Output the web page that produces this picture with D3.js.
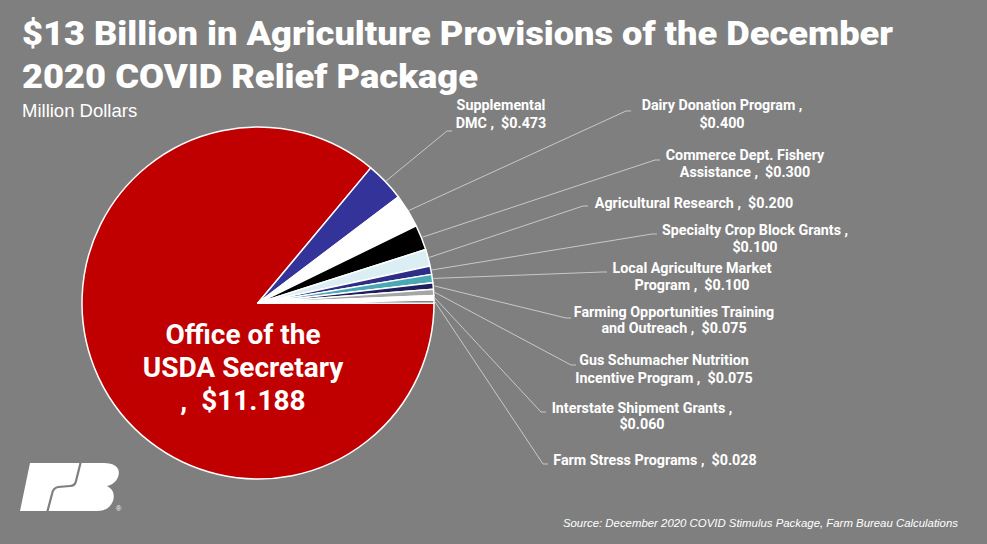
<!DOCTYPE html>
<html><head><meta charset="utf-8">
<script src="https://cdn.jsdelivr.net/npm/d3@7"></script>
<style>
html,body{margin:0;padding:0;background:#7f7f7f;}
svg{display:block;}
text{white-space:pre;}
</style></head>
<body>
<svg id="c" width="987" height="544"></svg>
<script>
// ---- data ----
const categories = [
  "Office of the USDA Secretary",
  "Supplemental DMC",
  "Dairy Donation Program",
  "Commerce Dept. Fishery Assistance",
  "Agricultural Research",
  "Specialty Crop Block Grants",
  "Local Agriculture Market Program",
  "Farming Opportunities Training and Outreach",
  "Gus Schumacher Nutrition Incentive Program",
  "Interstate Shipment Grants",
  "Farm Stress Programs"
];
const values = [11.188, 0.473, 0.400, 0.300, 0.200, 0.100, 0.100, 0.075, 0.075, 0.060, 0.028];
const labelLines = [
  ["Office of the", "USDA Secretary", ",  $11.188"],
  ["Supplemental", "DMC ,  $0.473"],
  ["Dairy Donation Program ,", "$0.400"],
  ["Commerce Dept. Fishery", "Assistance ,  $0.300"],
  ["Agricultural Research ,  $0.200"],
  ["Specialty Crop Block Grants ,", "$0.100"],
  ["Local Agriculture Market", "Program ,  $0.100"],
  ["Farming Opportunities Training", "and Outreach ,  $0.075"],
  ["Gus Schumacher Nutrition", "Incentive Program ,  $0.075"],
  ["Interstate Shipment Grants ,", "$0.060"],
  ["Farm Stress Programs ,  $0.028"]
];
const colors = ["#c00000", "#333399", "#ffffff", "#000000", "#dbeef4", "#2e2e86",
                "#4aa8b4", "#1f1f5e", "#a6a6a6", "#ffffff", "#000000"];
const titleLines = ["$13 Billion in Agriculture Provisions of the December", "2020 COVID Relief Package"];
const subtitle = "Million Dollars";
const source = "Source: December 2020 COVID Stimulus Package, Farm Bureau Calculations";

// ---- layout (positions, not data) ----
const cx = 258, cy = 303, R = 176;
const labelLayout = [
  {tx: 243, ty: 344, lh: 33},
  {tx: 501, ty: 110, lh: 18, ex: 447, ey: 131},
  {tx: 722, ty: 110, lh: 18, ex: 626, ey: 111},
  {tx: 745, ty: 160, lh: 17, ex: 655, ey: 160},
  {tx: 694, ty: 208, lh: 17, ex: 583, ey: 206},
  {tx: 755, ty: 235, lh: 17, ex: 652, ey: 234},
  {tx: 692, ty: 273, lh: 17, ex: 602, ey: 272},
  {tx: 674, ty: 317, lh: 16, ex: 566, ey: 318},
  {tx: 664, ty: 365, lh: 18, ex: 571, ey: 365},
  {tx: 642, ty: 413, lh: 16, ex: 541, ey: 412},
  {tx: 655, ty: 465, lh: 16, ex: 543, ey: 464}
];

const svg = d3.select("#c");
svg.append("rect").attr("width", 987).attr("height", 544).attr("fill", "#7f7f7f");

// title
const tW = [871, 456];
titleLines.forEach((t, i) => {
  svg.append("text").attr("x", 22).attr("y", 45 + i * 43)
    .attr("font-family", "Roboto, 'Liberation Sans', sans-serif")
    .attr("font-weight", 900).attr("font-size", 34).attr("fill", "#ffffff")
    .attr("textLength", tW[i]).attr("lengthAdjust", "spacingAndGlyphs")
    .text(t);
});
svg.append("text").attr("x", 22).attr("y", 117)
  .attr("font-family", "'Liberation Sans', Arial, sans-serif")
  .attr("font-size", 18.5).attr("fill", "#ffffff").text(subtitle);

// pie
const pie = d3.pie().sort(null).startAngle(Math.PI / 2).endAngle(Math.PI / 2 + 2 * Math.PI);
const arcs = pie(values);
const arc = d3.arc().innerRadius(0).outerRadius(R);
const g = svg.append("g").attr("transform", `translate(${cx},${cy})`);
g.selectAll("path").data(arcs).join("path")
  .attr("d", arc)
  .attr("fill", (d, i) => colors[i])
  .attr("stroke", "#ffffff").attr("stroke-width", 1.5).attr("stroke-linejoin", "round");

// leader lines
arcs.forEach((d, i) => {
  const L = labelLayout[i];
  if (L.ex === undefined) return;
  const a = (d.startAngle + d.endAngle) / 2;
  const sx = cx + Math.sin(a) * (R + 1), sy = cy - Math.cos(a) * (R + 1);
  svg.append("path")
    .attr("d", `M${sx},${sy}L${L.ex},${L.ey}L${L.ex + 5},${L.ey}`)
    .attr("fill", "none").attr("stroke", "#c8c8c8").attr("stroke-width", 1);
});

// labels
labelLines.forEach((lines, i) => {
  const L = labelLayout[i];
  const big = i === 0;
  const t = svg.append("text")
    .attr("font-family", "Roboto, 'Liberation Sans', sans-serif")
    .attr("font-weight", "bold")
    .attr("font-size", big ? 28 : 14.3)
    .attr("fill", "#ffffff")
    .attr("text-anchor", "middle");
  lines.forEach((s, j) => {
    t.append("tspan").attr("x", L.tx).attr("y", L.ty + j * L.lh).text(s);
  });
});

// source
svg.append("text").attr("x", 958).attr("y", 527).attr("text-anchor", "end")
  .attr("font-family", "'Liberation Sans', Arial, sans-serif")
  .attr("font-style", "italic").attr("font-size", 11.4).attr("fill", "#ffffff")
  .text(source);

// logo (Farm Bureau mark approximation)
const logo = svg.append("g");
logo.append("path")
  .attr("d", "M30,463 L104,463 C116,463 121,469 118,477 C116,482 112,485 107,486 C113,489 115,494 113,501 C110,508 105,511 97,511 L20,511 Z")
  .attr("fill", "#ffffff");
logo.append("path")
  .attr("d", "M81,461 L76,481 Q75,486 70,486 L58,487 Q53,488 52,494 L47,513")
  .attr("fill", "none").attr("stroke", "#7f7f7f").attr("stroke-width", 2.2);
logo.append("text").attr("x", 116).attr("y", 511).attr("font-size", 7)
  .attr("font-family", "'Liberation Sans', Arial, sans-serif").attr("fill", "#ffffff").text("®");
</script>
</body></html>
